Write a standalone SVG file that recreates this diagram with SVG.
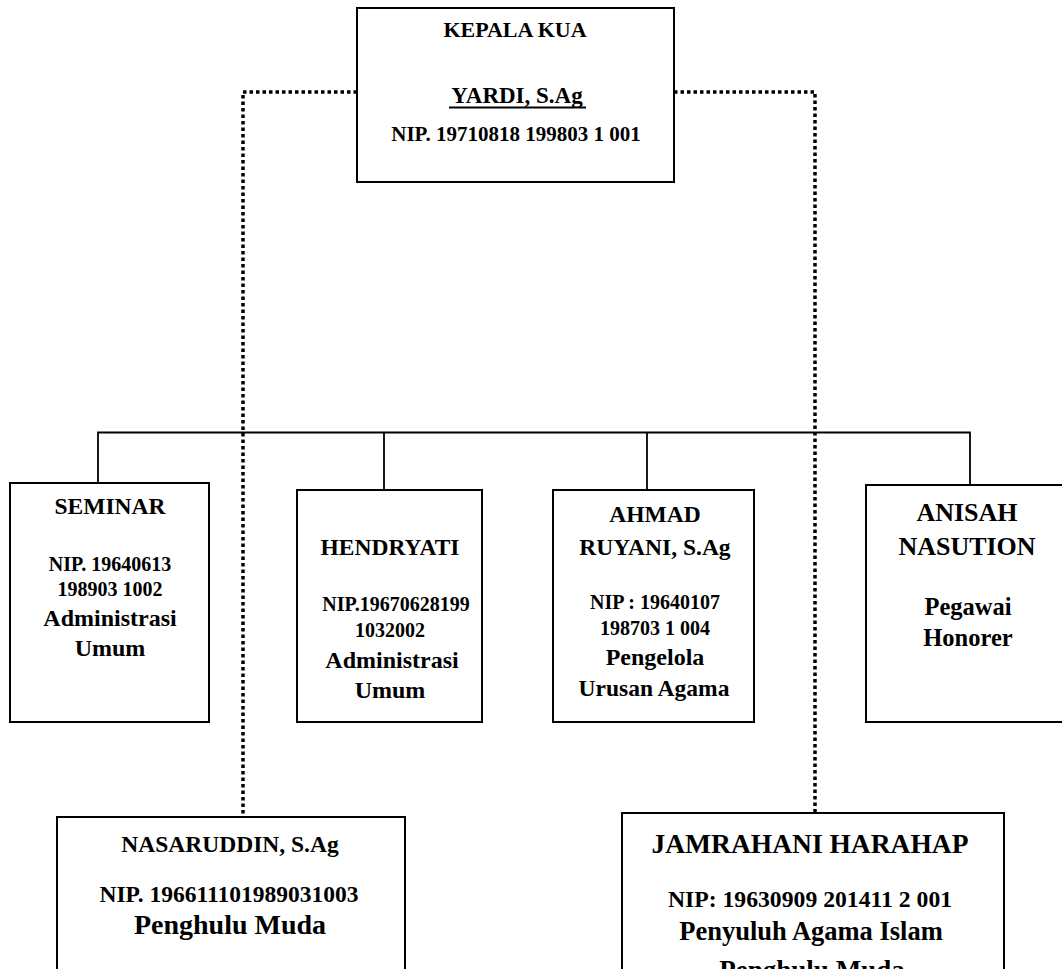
<svg xmlns="http://www.w3.org/2000/svg" width="1062" height="969" viewBox="0 0 1062 969">
<style>
.box{fill:#fff;stroke:#000;stroke-width:2}
.t{font-family:"Liberation Serif","Times New Roman",serif;font-weight:bold;fill:#000;text-anchor:middle}
.solid{fill:none;stroke:#000;stroke-width:1.8}
.dot{fill:none;stroke:#000;stroke-width:3.5;stroke-dasharray:3.5 3}
</style>
<rect width="1062" height="969" fill="#fff"/>
<g id="connectors">
<path class="dot" d="M357 92 H243 V816"/>
<path class="dot" d="M674 92 H815 V813"/>
<path class="solid" d="M98 482 V432.5 H970 V485"/>
<path class="solid" d="M384 432.5 V490"/>
<path class="solid" d="M647 432.5 V490"/>
</g>
<g id="kepala">
<rect class="box" x="357" y="8" width="317" height="174"/>
<text class="t" x="515" y="37" font-size="22">KEPALA KUA</text>
<text class="t" x="517" y="103" font-size="23">YARDI, S.Ag</text>
<line x1="449" y1="107.5" x2="586" y2="107.5" stroke="#000" stroke-width="1.8"/>
<text class="t" x="516" y="141" font-size="21">NIP. 19710818 199803 1 001</text>
</g>
<g id="seminar">
<rect class="box" x="10" y="483" width="199" height="239"/>
<text class="t" x="110" y="514" font-size="23.5">SEMINAR</text>
<text class="t" x="110" y="571" font-size="20">NIP. 19640613</text>
<text class="t" x="110" y="596" font-size="20">198903 1002</text>
<text class="t" x="110" y="626" font-size="24">Administrasi</text>
<text class="t" x="110" y="656" font-size="24">Umum</text>
</g>
<g id="hendryati">
<rect class="box" x="297" y="490" width="185" height="232"/>
<text class="t" x="390" y="555" font-size="23.5">HENDRYATI</text>
<text class="t" x="396" y="611" font-size="20">NIP.19670628199</text>
<text class="t" x="390" y="637" font-size="20">1032002</text>
<text class="t" x="392" y="668" font-size="24">Administrasi</text>
<text class="t" x="390" y="698" font-size="24">Umum</text>
</g>
<g id="ahmad">
<rect class="box" x="553" y="490" width="201" height="232"/>
<text class="t" x="655" y="522" font-size="23.5">AHMAD</text>
<text class="t" x="655" y="555" font-size="23.5">RUYANI, S.Ag</text>
<text class="t" x="655" y="609" font-size="20">NIP : 19640107</text>
<text class="t" x="655" y="635" font-size="20">198703 1 004</text>
<text class="t" x="655" y="665" font-size="24">Pengelola</text>
<text class="t" x="654" y="696" font-size="23.5">Urusan Agama</text>
</g>
<g id="anisah">
<rect class="box" x="866" y="485" width="204" height="237"/>
<text class="t" x="967" y="521" font-size="26">ANISAH</text>
<text class="t" x="967" y="555" font-size="26">NASUTION</text>
<text class="t" x="968" y="615" font-size="24.5">Pegawai</text>
<text class="t" x="968" y="646" font-size="24.5">Honorer</text>
</g>
<g id="nasaruddin">
<rect class="box" x="57" y="817" width="348" height="170"/>
<text class="t" x="230" y="852" font-size="23.5">NASARUDDIN, S.Ag</text>
<text class="t" x="229" y="902" font-size="23.5">NIP. 196611101989031003</text>
<text class="t" x="230" y="934" font-size="28">Penghulu Muda</text>
</g>
<g id="jamrahani">
<rect class="box" x="622" y="813" width="382" height="174"/>
<text class="t" x="810" y="853" font-size="27.5">JAMRAHANI HARAHAP</text>
<text class="t" x="810" y="907" font-size="23.7">NIP: 19630909 201411 2 001</text>
<text class="t" x="811" y="940" font-size="26.5">Penyuluh Agama Islam</text>
<text class="t" x="812" y="979" font-size="27">Penghulu Muda</text>
</g>
</svg>
